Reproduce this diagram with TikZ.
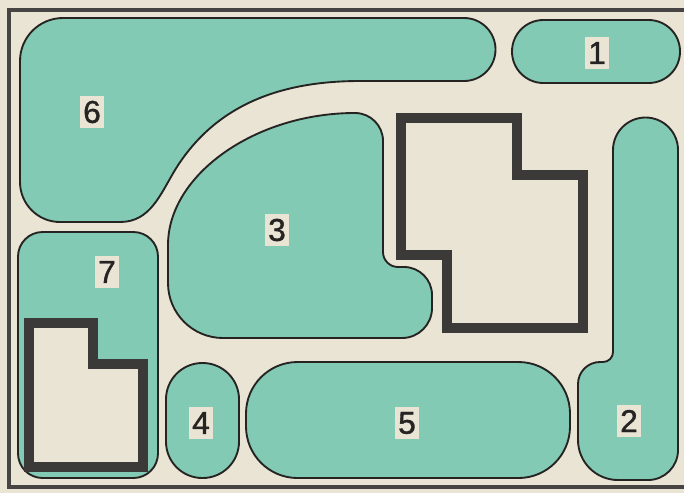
\documentclass[tikz,border=0pt]{standalone}
\usepackage{fontspec}
\setmainfont{Liberation Sans}
\newfontfamily\numfont[FakeBold=1.2]{Liberation Sans}
\definecolor{paper}{RGB}{234,228,212}
\definecolor{lawn}{RGB}{130,202,180}
\definecolor{ink}{RGB}{38,36,34}

\begin{document}
\begin{tikzpicture}[x=0.03cm,y=-0.03cm]
        \tikzstyle{every node}=[font=\numfont\fontsize{27}{27}\selectfont]
        \tikzstyle{lawnpatch}=[fill=lawn, draw=ink, line width=1.6pt]
        \tikzstyle{house}=[fill=paper, draw=ink!90, line width=8pt, line join=miter]
        \tikzstyle{numlabel}=[fill=paper, inner sep=0pt, minimum width=21pt, minimum height=28pt, text=ink]

        \useasboundingbox (0,0) rectangle (684,493);
        \fill [paper] (0,0) rectangle (684,493);
        \clip (0,0) rectangle (684,493);
        %frame
        \draw [ink!85, line width=4pt] (9,10) rectangle (700,487);

        %plot 6
        \draw [lawnpatch] (63,18) -- (464,18) arc[start angle=-90,end angle=90,radius=31.5] -- (360,81)
            .. controls (280,81) and (215,105) .. (175,170)
            .. controls (160,195) and (150,222) .. (120,222) -- (60,222)
            arc[start angle=90,end angle=180,radius=40] -- (20,61)
            arc[start angle=180,end angle=270,radius=43] -- cycle;
        %plot 1
        \draw [lawnpatch, rounded corners=26.8pt] (512,20) rectangle (680,83);
        %plot 2
        \draw [lawnpatch] (613,150) arc[start angle=180,end angle=360,radius=32.5] -- (678,450)
            arc[start angle=0,end angle=90,radius=30] -- (618,480)
            arc[start angle=90,end angle=180,radius=40] -- (578,384)
            arc[start angle=180,end angle=270,radius=22] -- (603,362)
            arc[start angle=90,end angle=0,radius=10] -- cycle;
        %plot 3
        \draw [lawnpatch] (168,245) .. controls (168,175) and (255,113) .. (355,113)
            arc[start angle=270,end angle=360,radius=28] -- (383,252)
            arc[start angle=180,end angle=90,radius=15] -- (404,267)
            arc[start angle=270,end angle=360,radius=28] -- (432,308)
            arc[start angle=0,end angle=90,radius=30] -- (223,338)
            arc[start angle=90,end angle=180,radius=55] -- cycle;
        %plots 7, 4, 5
        \draw [lawnpatch, rounded corners=21pt] (18,232) rectangle (158,478);
        \draw [lawnpatch, rounded corners=31pt] (166,363) rectangle (239,478);
        \draw [lawnpatch, rounded corners=44pt] (246,362) rectangle (570,478);

        %buildings
        \draw [house] (401,118) -- (517,118) -- (517,175) -- (583,175) -- (583,328) -- (447,328) -- (447,255) -- (401,255) -- cycle;
        \draw [house] (29,323) -- (93,323) -- (93,364) -- (143,364) -- (143,467) -- (29,467) -- cycle;

        \node [numlabel] (n1) at (597,53) {1};
        \node [numlabel] (n2) at (629,421) {2};
        \node [numlabel] (n3) at (277,230) {3};
        \node [numlabel] (n4) at (201,423) {4};
        \node [numlabel] (n5) at (407,423) {5};
        \node [numlabel] (n6) at (92,112) {6};
        \node [numlabel] (n7) at (107,272) {7};
\end{tikzpicture}
\end{document}
